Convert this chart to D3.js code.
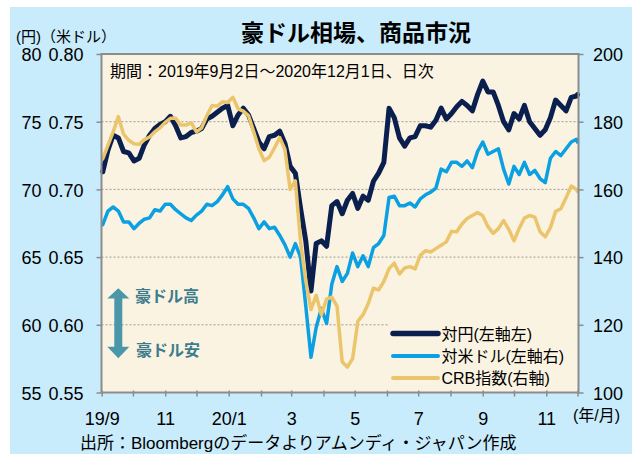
<!DOCTYPE html>
<html>
<head>
<meta charset="utf-8">
<script src="https://cdn.jsdelivr.net/npm/d3@7"></script>
<style>
  body { margin: 0; background: #fff; }
  svg text { font-family: "Liberation Sans", Arial, "Noto Sans CJK JP", sans-serif; }
</style>
</head>
<body>
<div id="chart"></div>
<script>

// ---- data (roughly every 5 days) ----
const dates = ["2019-09-02","2019-09-07","2019-09-12","2019-09-17","2019-09-22","2019-09-27","2019-10-02","2019-10-07","2019-10-12","2019-10-17","2019-10-22","2019-10-27","2019-11-01","2019-11-06","2019-11-11","2019-11-16","2019-11-21","2019-11-26","2019-12-01","2019-12-06","2019-12-11","2019-12-16","2019-12-21","2019-12-26","2019-12-31","2020-01-05","2020-01-10","2020-01-15","2020-01-20","2020-01-25","2020-01-30","2020-02-04","2020-02-09","2020-02-14","2020-02-19","2020-02-24","2020-02-29","2020-03-05","2020-03-10","2020-03-15","2020-03-20","2020-03-25","2020-03-30","2020-04-04","2020-04-09","2020-04-14","2020-04-19","2020-04-24","2020-04-29","2020-05-04","2020-05-09","2020-05-14","2020-05-19","2020-05-24","2020-05-29","2020-06-03","2020-06-08","2020-06-13","2020-06-18","2020-06-23","2020-06-28","2020-07-03","2020-07-08","2020-07-13","2020-07-18","2020-07-23","2020-07-28","2020-08-02","2020-08-07","2020-08-12","2020-08-17","2020-08-22","2020-08-27","2020-09-01","2020-09-06","2020-09-11","2020-09-16","2020-09-21","2020-09-26","2020-10-01","2020-10-06","2020-10-11","2020-10-16","2020-10-21","2020-10-26","2020-10-31","2020-11-05","2020-11-10","2020-11-15","2020-11-20","2020-11-25","2020-11-30","2020-12-01"];

// AUD/JPY (left axis, yen)
const audJpy = [71.3, 72.9, 74.0, 73.8, 72.8, 72.7, 72.1, 72.3, 73.3, 74.0,
  74.5, 74.8, 75.0, 75.4, 74.7, 73.8, 73.9, 74.2, 74.3, 74.5,
  75.2, 75.4, 75.7, 76.0, 76.2, 74.7, 75.5, 76.0, 75.5, 74.5,
  73.5, 73.0, 73.9, 74.0, 74.3, 73.4, 71.7, 71.2, 68.6, 66.2,
  62.5, 66.0, 66.2, 65.8, 68.8, 69.1, 68.2, 69.2, 69.7, 68.6,
  69.5, 69.2, 70.6, 71.2, 72.0, 76.0, 75.3, 73.8, 73.2, 73.8,
  73.9, 74.7, 74.7, 74.6, 75.1, 76.0, 75.2, 75.6, 76.1, 76.5,
  76.2, 75.8, 77.0, 78.0, 77.2, 77.2, 76.2, 75.0, 74.4, 75.6,
  75.2, 76.2, 75.0, 74.5, 74.0, 74.4, 75.3, 76.6, 76.2, 75.8,
  76.8, 76.9, 77.0];

// AUD/USD (left axis, dollars)
const audUsd = [0.674, 0.684, 0.687, 0.684, 0.676, 0.676, 0.671, 0.675, 0.678, 0.679,
  0.685, 0.684, 0.689, 0.689, 0.685, 0.682, 0.679, 0.677, 0.681, 0.684,
  0.689, 0.688, 0.691, 0.696, 0.702, 0.693, 0.689, 0.689, 0.686, 0.679,
  0.671, 0.676, 0.671, 0.672, 0.666, 0.659, 0.650, 0.660, 0.650, 0.614,
  0.576, 0.598, 0.612, 0.601, 0.630, 0.643, 0.632, 0.638, 0.653, 0.643,
  0.651, 0.643, 0.657, 0.660, 0.666, 0.694, 0.695, 0.688, 0.688, 0.690,
  0.687, 0.693, 0.696, 0.698, 0.701, 0.715, 0.713, 0.720, 0.720, 0.717,
  0.721, 0.716, 0.728, 0.735, 0.726, 0.728, 0.730, 0.715, 0.704, 0.717,
  0.711, 0.720, 0.711, 0.714, 0.708, 0.705, 0.723, 0.728, 0.725, 0.730,
  0.735, 0.737, 0.735];

// CRB index (right axis)
const crb = [169.0, 173.0, 177.0, 181.5, 176.3, 174.5, 173.5, 173.3, 174.7, 175.5,
  177.0, 178.2, 179.8, 181.0, 181.0, 179.0, 179.0, 179.7, 177.0, 178.2,
  181.8, 184.8, 184.6, 185.9, 185.7, 187.2, 183.8, 183.1, 181.8, 177.0,
  172.0, 168.5, 169.5, 172.3, 175.3, 171.8, 160.0, 162.5, 144.5, 133.0,
  124.5, 128.7, 123.0, 127.6, 128.2, 125.5, 109.0, 107.5, 110.0, 121.0,
  123.0, 126.2, 130.8, 130.3, 132.8, 136.6, 138.2, 135.0, 136.8, 137.2,
  136.5, 140.5, 141.9, 141.5, 142.5, 143.5, 144.5, 147.6, 147.5, 149.8,
  151.4, 152.3, 153.2, 152.2, 149.0, 147.0, 148.4, 150.8, 148.2, 144.8,
  148.5, 151.5, 152.3, 151.8, 147.5, 146.0, 148.7, 153.5, 154.3, 157.5,
  161.0, 160.0, 159.4];

const yenTicks = [55, 60, 65, 70, 75, 80];
const usdTicks = [0.55, 0.60, 0.65, 0.70, 0.75, 0.80];
const crbTicks = [100, 120, 140, 160, 180, 200];
const xLabelMonths = ["2019-09", "2019-11", "2020-01", "2020-03", "2020-05", "2020-07", "2020-09", "2020-11"];
const xLabels = ["19/9", "11", "20/1", "3", "5", "7", "9", "11"];

const seriesNames = ["対円(左軸左)", "対米ドル(左軸右)", "CRB指数(右軸)"];

// ---- layout ----
const W = 632, H = 454;
const plot = {left: 101.5, right: 578.5, top: 54, bottom: 392.5};
const axisColor = "#8c8c8c";
const colors = ["#0b1f4f", "#0aa0e2", "#ebc56b"];
const widths = [5, 3.5, 3.5];

const svg = d3.select("#chart").append("svg")
    .attr("width", W)
    .attr("height", H);

// backgrounds
svg.append("rect")
    .attr("x", 10).attr("y", 7)
    .attr("width", W - 10).attr("height", H - 7)
    .attr("fill", "#c8ecfb");

svg.append("rect")
    .attr("x", plot.left).attr("y", plot.top)
    .attr("width", plot.right - plot.left).attr("height", plot.bottom - plot.top)
    .attr("fill", "#fbf3e2");

// scales
const parse = d3.timeParse("%Y-%m-%d");
const x = d3.scaleTime()
    .domain([parse("2019-09-01"), parse("2020-12-01")])
    .range([101.7, 577.5]);

const yYen = d3.scaleLinear().domain([55, 80]).range([plot.bottom, plot.top]);
const yUsd = d3.scaleLinear().domain([0.55, 0.80]).range([plot.bottom, plot.top]);
const yCrb = d3.scaleLinear().domain([100, 200]).range([plot.bottom, plot.top]);

// gridlines
svg.append("g")
    .selectAll("line")
    .data(yenTicks.slice(1, -1))
    .join("line")
    .attr("x1", plot.left).attr("x2", plot.right)
    .attr("y1", d => yYen(d)).attr("y2", d => yYen(d))
    .attr("stroke", "#9a9a9a")
    .attr("stroke-width", 1)
    .attr("stroke-dasharray", "2,2");

// legend backdrop (hides gridline behind legend)
svg.append("rect")
    .attr("x", 389).attr("y", 316)
    .attr("width", 188).attr("height", 75)
    .attr("fill", "#fbf3e2");

// lines
const pts = dates.map(parse);
const series = [
    {vals: audJpy, y: yYen},
    {vals: audUsd, y: yUsd},
    {vals: crb, y: yCrb}
];

series.forEach(function(s, i) {
    const line = d3.line()
        .x((d, j) => x(pts[j]))
        .y(d => s.y(d));
    svg.append("path")
        .datum(s.vals)
        .attr("fill", "none")
        .attr("stroke", colors[i])
        .attr("stroke-width", widths[i])
        .attr("stroke-linejoin", "round")
        .attr("stroke-linecap", "round")
        .attr("d", line);
});

// frame
svg.append("rect")
    .attr("x", plot.left).attr("y", plot.top)
    .attr("width", plot.right - plot.left).attr("height", plot.bottom - plot.top)
    .attr("fill", "none")
    .attr("stroke", axisColor)
    .attr("stroke-width", 2);

function styleAxis(g, size) {
    g.select(".domain").remove();
    g.selectAll(".tick line").attr("stroke", axisColor).attr("stroke-width", 1.5);
    g.selectAll(".tick text")
        .attr("fill", "#000")
        .style("font-size", size + "px");
}

// left axis: dollars column with ticks
svg.append("g")
    .attr("transform", "translate(" + plot.left + ",0)")
    .call(d3.axisLeft(yUsd).tickValues(usdTicks).tickSize(5).tickPadding(13).tickFormat(d3.format(".2f")))
    .call(g => styleAxis(g, 18))
    .selectAll(".tick text").attr("dy", "0.38em");

// left axis: yen column, labels only
svg.append("g")
    .attr("transform", "translate(" + plot.left + ",0)")
    .call(d3.axisLeft(yYen).tickValues(yenTicks).tickSize(0).tickPadding(60))
    .call(g => styleAxis(g, 18))
    .selectAll(".tick text").attr("dy", "0.38em");

// right axis
svg.append("g")
    .attr("transform", "translate(" + plot.right + ",0)")
    .call(d3.axisRight(yCrb).tickValues(crbTicks).tickSize(5).tickPadding(9.5))
    .call(g => styleAxis(g, 18))
    .selectAll(".tick text").attr("dy", "0.38em");

// bottom axis
const labelFmt = d3.timeFormat("%Y-%m");
svg.append("g")
    .attr("transform", "translate(0," + plot.bottom + ")")
    .call(d3.axisBottom(x)
        .ticks(d3.timeMonth.every(1))
        .tickSize(4)
        .tickPadding(15.7)
        .tickFormat(d => {
            const i = xLabelMonths.indexOf(labelFmt(d));
            return i >= 0 ? xLabels[i] : "";
        }))
    .call(g => styleAxis(g, 18))
    .call(g => g.selectAll(".tick line").attr("y1", -2));

svg.append("text")
    .attr("x", 573).attr("y", 421)
    .style("font-size", "16px")
    .text("(年/月)");

// titles
svg.append("text")
    .attr("x", 356).attr("y", 41)
    .attr("text-anchor", "middle")
    .style("font-size", "23px")
    .style("font-weight", "bold")
    .style("font-family", "'Noto Sans CJK JP', sans-serif")
    .text("豪ドル相場、商品市況");

svg.append("text")
    .attr("x", 16).attr("y", 42)
    .style("font-size", "15px")
    .text("(円)（米ドル）");

svg.append("text")
    .attr("x", 110).attr("y", 76.5)
    .style("font-size", "16px")
    .text("期間：2019年9月2日～2020年12月1日、日次");

// legend
const legendY = [333.5, 356, 378];
const legend = svg.append("g");
seriesNames.forEach(function(name, i) {
    legend.append("line")
        .attr("x1", 393).attr("x2", 438)
        .attr("y1", legendY[i]).attr("y2", legendY[i])
        .attr("stroke", colors[i])
        .attr("stroke-width", widths[i] + 0.5)
        .attr("stroke-linecap", "round");
    legend.append("text")
        .attr("x", 441.5).attr("y", legendY[i] + 6)
        .style("font-size", "16px")
        .text(name);
});

// arrow annotation
const arrowColor = "#4b97aa";
svg.append("path")
    .attr("d", "M118.3,288.3 L129.3,298.5 L122.3,298.5 L122.3,346.7 L129.3,346.7 L118.3,358.3 L107.3,346.7 L114.3,346.7 L114.3,298.5 L107.3,298.5 Z")
    .attr("fill", arrowColor);

svg.append("text")
    .attr("x", 135).attr("y", 302)
    .style("font-size", "16px").style("font-weight", "bold")
    .attr("fill", "#3c7c8c")
    .text("豪ドル高");

svg.append("text")
    .attr("x", 136).attr("y", 356)
    .style("font-size", "16px").style("font-weight", "bold")
    .attr("fill", "#3c7c8c")
    .text("豪ドル安");

// source
svg.append("text")
    .attr("x", 80).attr("y", 449)
    .style("font-size", "17px")
    .text("出所：Bloombergのデータよりアムンディ・ジャパン作成");

</script>
</body>
</html>
